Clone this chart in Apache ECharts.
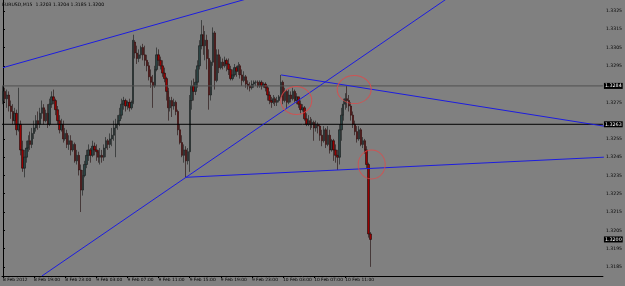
<!DOCTYPE html>
<html><head><meta charset="utf-8">
<script src="https://cdn.jsdelivr.net/npm/echarts@6/dist/echarts.min.js"></script>
<style>html,body{margin:0;padding:0;background:#808080}#c{width:625px;height:286px}</style>
</head><body><div id="c"></div>
<script>
const chartTitle = "EURUSD,M15  1.3203 1.3204 1.3185 1.3200";
const timeLabels = ["8 Feb 2012","8 Feb 19:00","8 Feb 23:00","9 Feb 03:00","9 Feb 07:00","9 Feb 11:00","9 Feb 15:00","9 Feb 19:00","9 Feb 23:00","10 Feb 03:00","10 Feb 07:00","10 Feb 11:00"];
const labelEvery = 16;
const totalSlots = 309;

const opens = [
1.3276,1.3281,1.3277,1.3279,1.3273,1.3270,1.3265,1.3269,1.3260,1.3263,
1.3249,1.3239,1.3245,1.3250,1.3254,1.3252,1.3258,1.3261,1.3265,1.3263,
1.3269,1.3272,1.3265,1.3269,1.3263,1.3274,1.3278,1.3276,1.3271,1.3265,
1.3260,1.3263,1.3255,1.3258,1.3252,1.3254,1.3249,1.3252,1.3243,1.3246,
1.3238,1.3227,1.3235,1.3241,1.3246,1.3249,1.3246,1.3251,1.3249,1.3248,
1.3245,1.3246,1.3245,1.3250,1.3254,1.3252,1.3255,1.3257,1.3261,1.3263,
1.3265,1.3268,1.3274,1.3276,1.3273,1.3275,1.3272,1.3275,1.3308,1.3302,
1.3299,1.3301,1.3305,1.3301,1.3298,1.3295,1.3289,1.3286,1.3284,1.3293,
1.3301,1.3298,1.3295,1.3291,1.3288,1.3281,1.3272,1.3276,1.3273,1.3275,
1.3270,1.3260,1.3253,1.3246,1.3249,1.3243,1.3248,1.3276,1.3284,1.3281,
1.3286,1.3295,1.3306,1.3312,1.3306,1.3309,1.3299,1.3279,1.3297,1.3313,
1.3287,1.3301,1.3294,1.3297,1.3295,1.3298,1.3296,1.3293,1.3288,1.3290,
1.3294,1.3292,1.3295,1.3290,1.3287,1.3289,1.3285,1.3284,1.3283,1.3285,
1.3286,1.3286,1.3284,1.3286,1.3284,1.3285,1.3283,1.3279,1.3276,1.3275,
1.3277,1.3275,1.3276,1.3278,1.3286,1.3276,1.3281,1.3275,1.3279,1.3277,
1.3281,1.3276,1.3278,1.3274,1.3271,1.3272,1.3266,1.3263,1.3265,1.3263,
1.3264,1.3261,1.3263,1.3262,1.3257,1.3254,1.3260,1.3252,1.3257,1.3249,
1.3254,1.3249,1.3246,1.3245,1.3260,1.3268,1.3274,1.3277,1.3276,1.3273,
1.3268,1.3263,1.3259,1.3255,1.3260,1.3252,1.3254,1.3249,1.3241,1.3203];
const highs = [
1.3284,1.3283,1.3282,1.3281,1.3276,1.3274,1.3272,1.3271,1.3283,1.3265,
1.3254,1.3249,1.3254,1.3257,1.3259,1.3261,1.3265,1.3268,1.3270,1.3272,
1.3276,1.3274,1.3271,1.3274,1.3277,1.3281,1.3282,1.3277,1.3273,1.3268,
1.3266,1.3265,1.3261,1.3260,1.3257,1.3257,1.3254,1.3253,1.3249,1.3248,
1.3241,1.3238,1.3243,1.3249,1.3252,1.3250,1.3254,1.3253,1.3252,1.3249,
1.3250,1.3249,1.3252,1.3256,1.3255,1.3258,1.3261,1.3265,1.3266,1.3268,
1.3272,1.3277,1.3278,1.3277,1.3276,1.3277,1.3276,1.3312,1.3309,1.3306,
1.3304,1.3306,1.3307,1.3306,1.3301,1.3297,1.3293,1.3290,1.3295,1.3305,
1.3304,1.3300,1.3298,1.3294,1.3289,1.3283,1.3278,1.3278,1.3277,1.3276,
1.3271,1.3263,1.3257,1.3252,1.3251,1.3250,1.3279,1.3287,1.3288,1.3293,
1.3298,1.3309,1.3320,1.3317,1.3314,1.3312,1.3304,1.3298,1.3316,1.3314,
1.3304,1.3304,1.3300,1.3299,1.3300,1.3299,1.3299,1.3295,1.3293,1.3296,
1.3295,1.3297,1.3296,1.3293,1.3292,1.3290,1.3287,1.3286,1.3287,1.3287,
1.3287,1.3287,1.3287,1.3287,1.3286,1.3286,1.3284,1.3281,1.3278,1.3279,
1.3278,1.3278,1.3279,1.3290,1.3287,1.3283,1.3282,1.3282,1.3281,1.3283,
1.3282,1.3280,1.3278,1.3276,1.3274,1.3273,1.3269,1.3268,1.3267,1.3266,
1.3265,1.3265,1.3264,1.3263,1.3260,1.3262,1.3261,1.3262,1.3260,1.3255,
1.3255,1.3252,1.3249,1.3263,1.3272,1.3277,1.3280,1.3284,1.3279,1.3275,
1.3270,1.3265,1.3262,1.3262,1.3261,1.3256,1.3255,1.3251,1.3242,1.3204];
const lows = [
1.3274,1.3275,1.3272,1.3270,1.3266,1.3263,1.3263,1.3257,1.3259,1.3246,
1.3237,1.3234,1.3242,1.3248,1.3249,1.3250,1.3255,1.3259,1.3260,1.3261,
1.3266,1.3263,1.3264,1.3261,1.3262,1.3272,1.3274,1.3268,1.3263,1.3258,
1.3259,1.3253,1.3254,1.3250,1.3249,1.3246,1.3248,1.3242,1.3241,1.3235,
1.3215,1.3224,1.3234,1.3239,1.3243,1.3242,1.3245,1.3246,1.3243,1.3242,
1.3241,1.3242,1.3243,1.3245,1.3249,1.3250,1.3251,1.3254,1.3245,1.3260,
1.3262,1.3266,1.3271,1.3270,1.3271,1.3270,1.3271,1.3274,1.3299,1.3296,
1.3297,1.3299,1.3298,1.3295,1.3292,1.3287,1.3283,1.3272,1.3283,1.3292,
1.3295,1.3293,1.3289,1.3286,1.3276,1.3265,1.3270,1.3267,1.3271,1.3268,
1.3257,1.3252,1.3245,1.3242,1.3234,1.3241,1.3237,1.3271,1.3276,1.3279,
1.3283,1.3293,1.3304,1.3301,1.3298,1.3293,1.3271,1.3276,1.3295,1.3282,
1.3286,1.3291,1.3293,1.3293,1.3294,1.3292,1.3290,1.3287,1.3287,1.3289,
1.3289,1.3290,1.3288,1.3284,1.3286,1.3283,1.3282,1.3281,1.3282,1.3283,
1.3284,1.3283,1.3283,1.3282,1.3283,1.3281,1.3276,1.3274,1.3272,1.3274,
1.3273,1.3273,1.3275,1.3277,1.3274,1.3275,1.3272,1.3274,1.3275,1.3276,
1.3275,1.3274,1.3272,1.3269,1.3270,1.3265,1.3262,1.3262,1.3260,1.3261,
1.3254,1.3259,1.3258,1.3254,1.3251,1.3253,1.3250,1.3251,1.3247,1.3248,
1.3243,1.3242,1.3238,1.3241,1.3254,1.3265,1.3271,1.3272,1.3270,1.3265,
1.3261,1.3257,1.3253,1.3254,1.3251,1.3250,1.3247,1.3239,1.3201,1.3185];
const closes = [
1.3281,1.3277,1.3279,1.3273,1.3270,1.3265,1.3269,1.3260,1.3263,1.3249,
1.3239,1.3245,1.3250,1.3254,1.3252,1.3258,1.3261,1.3265,1.3263,1.3269,
1.3272,1.3265,1.3269,1.3263,1.3274,1.3278,1.3276,1.3271,1.3265,1.3260,
1.3263,1.3255,1.3258,1.3252,1.3254,1.3249,1.3252,1.3243,1.3246,1.3238,
1.3227,1.3235,1.3241,1.3246,1.3249,1.3246,1.3251,1.3249,1.3248,1.3245,
1.3246,1.3245,1.3250,1.3254,1.3252,1.3255,1.3257,1.3261,1.3263,1.3265,
1.3268,1.3274,1.3276,1.3273,1.3275,1.3272,1.3275,1.3309,1.3302,1.3299,
1.3301,1.3305,1.3301,1.3298,1.3295,1.3289,1.3286,1.3284,1.3293,1.3301,
1.3298,1.3295,1.3291,1.3288,1.3281,1.3272,1.3276,1.3273,1.3275,1.3270,
1.3260,1.3253,1.3246,1.3249,1.3243,1.3248,1.3276,1.3284,1.3281,1.3286,
1.3295,1.3306,1.3312,1.3306,1.3309,1.3299,1.3279,1.3297,1.3313,1.3287,
1.3301,1.3294,1.3297,1.3295,1.3298,1.3296,1.3293,1.3288,1.3290,1.3294,
1.3292,1.3295,1.3290,1.3287,1.3289,1.3285,1.3284,1.3283,1.3285,1.3286,
1.3286,1.3284,1.3286,1.3284,1.3285,1.3283,1.3279,1.3276,1.3275,1.3277,
1.3275,1.3276,1.3278,1.3286,1.3276,1.3281,1.3275,1.3279,1.3277,1.3281,
1.3276,1.3278,1.3274,1.3271,1.3272,1.3266,1.3263,1.3265,1.3263,1.3264,
1.3261,1.3263,1.3262,1.3257,1.3254,1.3260,1.3252,1.3257,1.3249,1.3254,
1.3249,1.3246,1.3245,1.3260,1.3268,1.3274,1.3277,1.3276,1.3273,1.3268,
1.3263,1.3259,1.3255,1.3260,1.3252,1.3254,1.3249,1.3241,1.3203,1.3200];

const yMin = 1.3180, yMax = 1.3331;
const yLabelValues = [1.3185,1.3195,1.3205,1.3215,1.3225,1.3235,1.3245,1.3255,1.3275,1.3295,1.3305,1.3315,1.3325];
const levelGray = 1.3284;
const levelBlack = 1.3263;
const bidPrice = 1.3200;

// trend lines: [bar index, price]
const trendUpperLeft = [[0,1.3294],[140,1.3336]];
const trendLongRise = [[20,1.3180],[230,1.3333]];
const trendLowerFlat = [[94,1.3234],[309,1.3245]];
const trendUpperFall = [[143,1.3290],[309,1.3262]];
const circleCenters = [[150.8,1.3276],[180.6,1.3282],[189.6,1.3241]];
const circlePx = [[31,28],[34,28],[27,29]];

const cats = [];
const t0 = Date.UTC(2012,1,8,15,0);
for (let k = 0; k < totalSlots; k++) {
  const d = new Date(t0 + k*900000);
  const p = n => String(n).padStart(2,'0');
  cats.push(`2012.${p(d.getUTCMonth()+1)}.${p(d.getUTCDate())} ${p(d.getUTCHours())}:${p(d.getUTCMinutes())}`);
}
const candles = opens.map((o,i)=>[o, closes[i], lows[i], highs[i]]);

const chart = echarts.init(document.getElementById('c'), null, {renderer:'canvas'});
const FONT = 'DejaVu Sans';
const trendSeries = [trendUpperLeft, trendLongRise, trendLowerFlat, trendUpperFall].map(d => ({
  type:'line', xAxisIndex:1, yAxisIndex:0, data:d, symbol:'none', silent:true, clip:true,
  lineStyle:{color:'#1c1ce0', width:1}, z:5, animation:false
}));
function levelSeries(v, color, visible) {
  return {
    type:'line', xAxisIndex:1, yAxisIndex:0, data:[[-0.5, v],[totalSlots-0.5, v]],
    symbol:'none', silent:true, clip:false, z:4, animation:false,
    lineStyle:{color: visible ? color : 'rgba(0,0,0,0)', width:1},
    endLabel:{show:true, formatter:p=>Number(p.value[1]).toFixed(4), color:'#fff', backgroundColor:'#000',
      fontSize:4.8, fontFamily:FONT, padding:[1,1,0,1], distance:1}
  };
}
chart.setOption({
  animation:false,
  backgroundColor:'#808080',
  title:{text:chartTitle, left:2, top:2, padding:0, textStyle:{fontSize:4.6, color:'#000', fontWeight:'normal', fontFamily:FONT}},
  grid:{left:0, right:19, top:0, bottom:10, containLabel:false},
  xAxis:[{
    type:'category', data:cats, boundaryGap:true,
    axisLine:{show:true, lineStyle:{color:'#000', width:1}},
    axisTick:{show:true, alignWithLabel:true, length:2, interval:(i)=> i % labelEvery === 0 && i/labelEvery < timeLabels.length, lineStyle:{color:'#000'}},
    axisLabel:{interval:(i)=> i % labelEvery === 0 && i/labelEvery < timeLabels.length,
      formatter:(v,i)=> timeLabels[i/labelEvery] || '', align:'left', margin:2, fontSize:4.4, color:'#000', fontFamily:FONT},
    splitLine:{show:false}
  },{
    type:'value', min:-0.5, max:totalSlots-0.5, show:false
  }],
  yAxis:[{
    type:'value', position:'right', min:yMin, max:yMax, scale:true,
    axisLine:{show:true, lineStyle:{color:'#000', width:1}},
    axisTick:{show:true, length:2, customValues:yLabelValues, lineStyle:{color:'#000'}},
    axisLabel:{customValues:yLabelValues, formatter:v=>v.toFixed(4), fontSize:4.6, color:'#000', margin:3, fontFamily:FONT},
    splitLine:{show:false}
  }],
  series:[{
    type:'candlestick', xAxisIndex:0, yAxisIndex:0, data:candles, barWidth:'95%',
    itemStyle:{color:'#2a4444', color0:'#990000', borderColor:'#141818', borderColor0:'#1e0808', borderWidth:0.6}
  },
  levelSeries(levelGray, '#505050', true),
  levelSeries(levelBlack, '#000000', true),
  levelSeries(bidPrice, '#000000', false),
  ...trendSeries, {
    type:'scatter', xAxisIndex:1, yAxisIndex:0, silent:true, z:6,
    data: circleCenters.map((c,i)=>({value:c, symbolSize:circlePx[i]})),
    symbol:'circle',
    itemStyle:{color:'rgba(0,0,0,0)', borderColor:'#e04848', borderWidth:1}
  }]
});
</script></body></html>
